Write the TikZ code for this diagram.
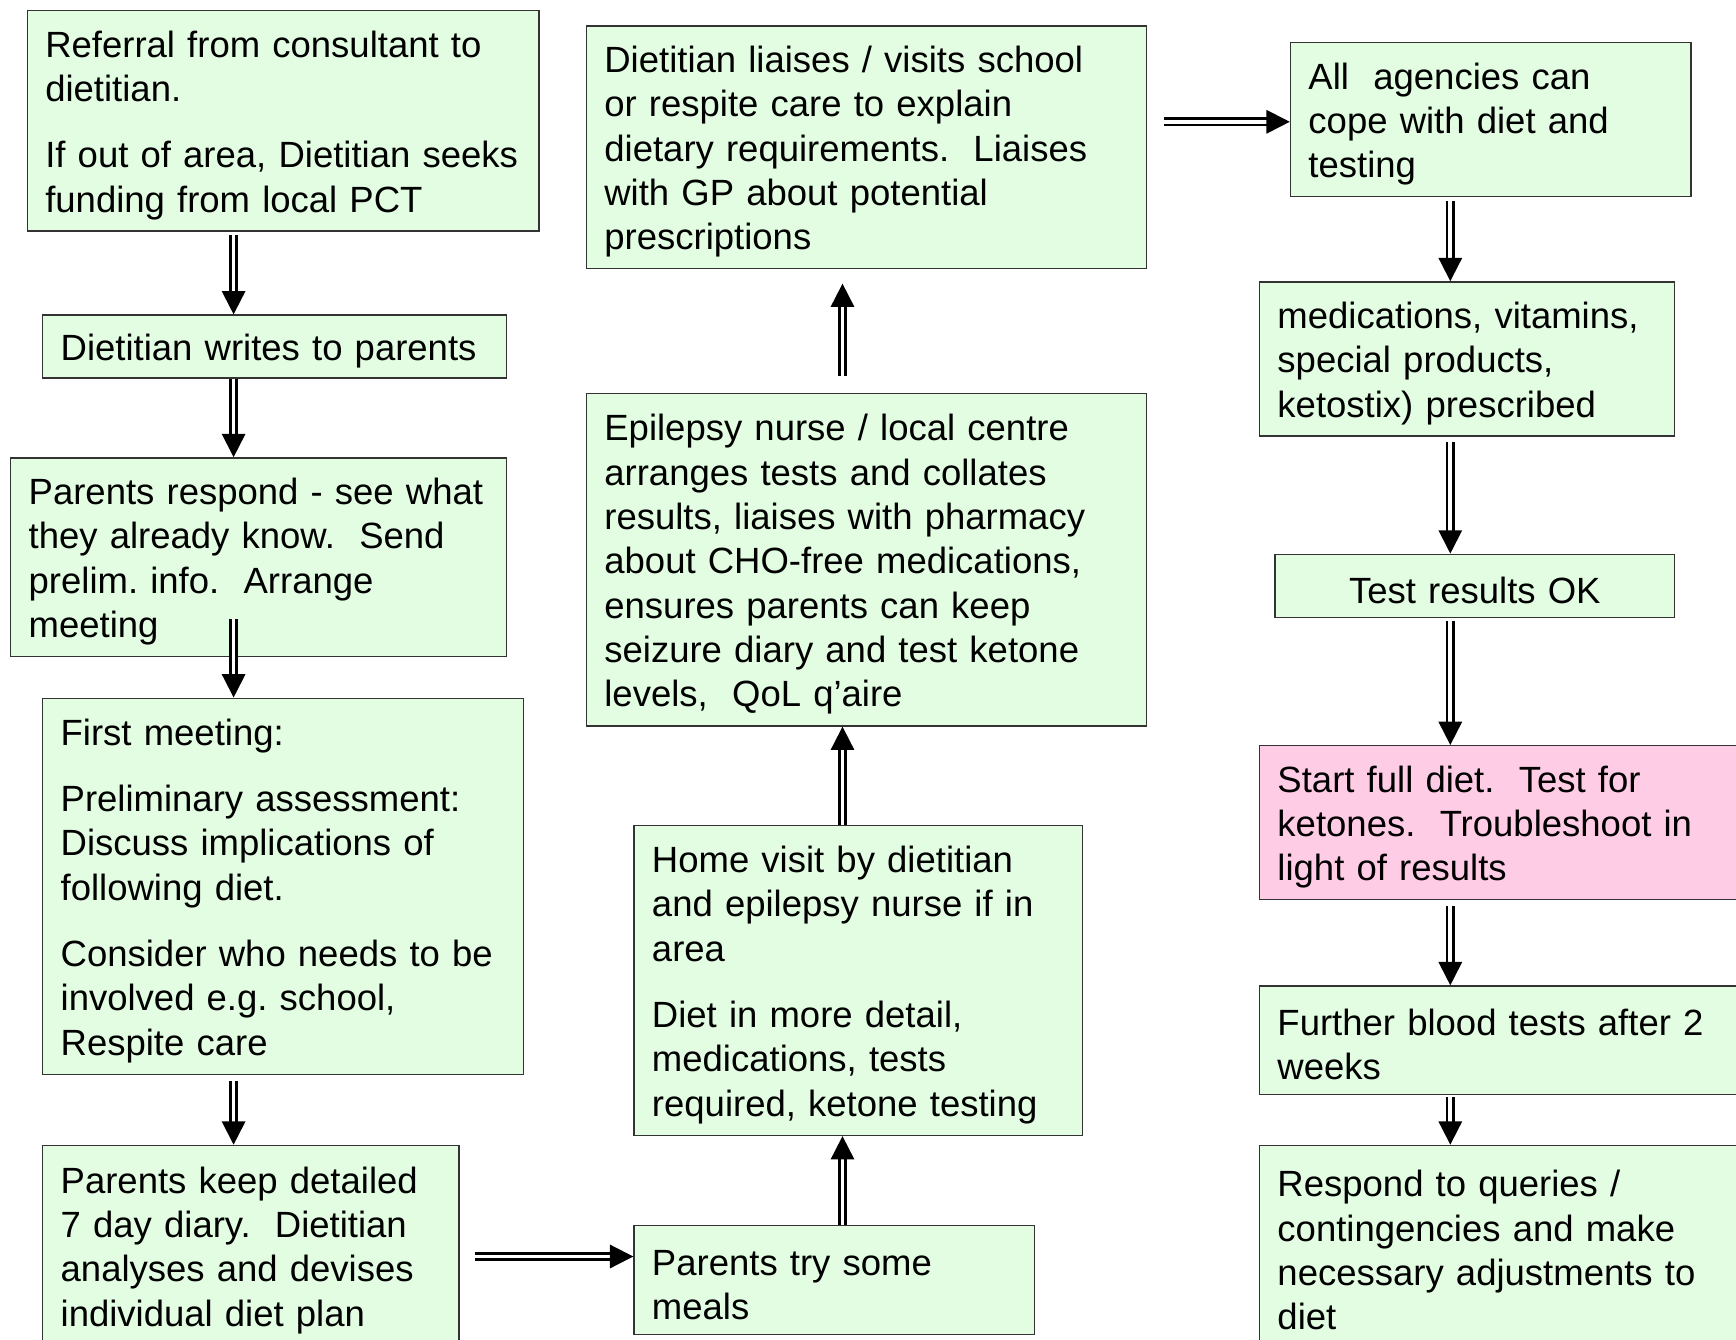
\documentclass[tikz,border=0pt]{standalone}
\usepackage{fontspec}
\setmainfont{Liberation Sans}
\usetikzlibrary{arrows.meta,calc}
\definecolor{boxgreen}{RGB}{226,253,226}
\definecolor{boxpink}{RGB}{255,204,230}

\begin{document}
\frenchspacing
\begin{tikzpicture}[x=0.3pt,y=-0.3pt,
	stage/.style={draw=black!80, line width=0.4pt, fill=boxgreen, anchor=north west,
	   align=left, inner xsep=5.4pt, inner ysep=2pt,
	   font=\fontsize{10.95pt}{13.3pt}\selectfont,
	   execute at begin node={\rule{0pt}{10.6pt}}},
	dbl/.style={draw=none,
	   postaction={draw=black, double=white, double distance=1.1pt, line width=0.8pt, shorten >=6pt},
	   postaction={draw=white, line width=0.6pt, -{Triangle[length=7pt,width=7pt,color=black]}}}]
	\useasboundingbox (0,0) rectangle (1736,1340);
	
	% arrow columns and rows
	\coordinate (c1) at (233.6,0);
	\coordinate (c2) at (842.5,0);
	\coordinate (c3) at (1450.3,0);
	\coordinate (r1) at (0,1256.5);
	\coordinate (r2) at (0,121.8);
	
	% left column
	\node[stage, text width=142.7pt, minimum height=66.1pt] (A) at (26.6,10)
	   {Referral from consultant to\\ dietitian.\\[6.6pt] If out of area, Dietitian seeks\\ funding from local PCT};
	\node[stage, text width=128.4pt, minimum height=18.9pt] (B) at (42,314.4)
	   {Dietitian writes to parents};
	\node[stage, text width=138pt, minimum height=59.5pt] (C) at (10,457.2)
	   {Parents respond - see what\\ they already know.\ \ Send\\ prelim. info.\ \ Arrange\\ meeting};
	\node[stage, text width=133.4pt, minimum height=112.95pt] (D) at (42,697.5)
	   {First meeting:\\[6.6pt] Preliminary assessment:\\ Discuss implications of\\ following diet.\\[6.6pt] Consider who needs to be\\ involved e.g. school,\\ Respite care};
	\node[stage, text width=114.1pt, minimum height=60.3pt] (E) at (42,1144.7)
	   {Parents keep detailed\\ 7 day diary.\ \ Dietitian\\ analyses and devises\\ individual diet plan};
	
	% middle column
	\node[stage, text width=157.3pt, minimum height=72.75pt] (F) at (585.7,25.5)
	   {Dietitian liaises / visits school\\ or respite care to explain\\ dietary requirements.\ \ Liaises\\ with GP about potential\\ prescriptions};
	\node[stage, text width=157.3pt, minimum height=99.7pt] (G) at (585.7,393)
	   {Epilepsy nurse / local centre\\ arranges tests and collates\\ results, liaises with pharmacy\\ about CHO-free medications,\\ ensures parents can keep\\ seizure diary and test ketone\\ levels,\ \ QoL q’aire};
	\node[stage, text width=123.7pt, minimum height=93pt] (H) at (633.3,824.8)
	   {Home visit by dietitian\\ and epilepsy nurse if in\\ area\\[6.6pt] Diet in more detail,\\ medications, tests\\ required, ketone testing};
	\node[stage, text width=109.4pt, minimum height=32.85pt] (I) at (633.3,1224.5)
	   {Parents try some\\ meals};
	
	% right column
	\node[stage, text width=109.4pt, minimum height=46.2pt] (J) at (1289.8,42)
	   {All\ \ agencies can\\ cope with diet and\\ testing};
	\node[stage, text width=113.8pt, minimum height=46.2pt] (K) at (1258.8,281.2)
	   {medications, vitamins,\\ special products,\\ ketostix) prescribed};
	\node[stage, text width=109.1pt, minimum height=18.9pt, align=center] (L) at (1274.3,553.6)
	   {Test results OK};
	\node[stage, fill=boxpink, text width=135.1pt, minimum height=46.2pt] (M) at (1258.8,745)
	   {Start full diet.\ \ Test for\\ ketones.\ \ Troubleshoot in\\ light of results};
	\node[stage, text width=135.1pt, minimum height=32.55pt] (N) at (1258.8,985.3)
	   {Further blood tests after 2\\ weeks};
	\node[stage, text width=135.1pt, minimum height=60.3pt] (O) at (1258.8,1144.7)
	   {Respond to queries /\\ contingencies and make\\ necessary adjustments to\\ diet};
	
	% connectors
	\draw[dbl] ($(A.south -| c1)+(0,3)$) -- (B.north -| c1);
	\draw[dbl] (B.south -| c1) -- (C.north -| c1);
	\draw[dbl] ($(C.south -| c1)+(0,-37.6)$) -- (D.north -| c1);
	\draw[dbl] ($(D.south -| c1)+(0,5.5)$) -- (E.north -| c1);
	\draw[dbl] ($(E.east |- r1)+(15.4,0)$) -- (I.west |- r1);
	\draw[dbl] (I.north -| c2) -- (H.south -| c2);
	\draw[dbl] (H.north -| c2) -- (G.south -| c2);
	\draw[dbl] ($(G.north -| c2)+(0,-16.6)$) -- ($(F.south -| c2)+(0,14.3)$);
	\draw[dbl] ($(F.east |- r2)+(16.6,0)$) -- (J.west |- r2);
	\draw[dbl] ($(J.south -| c3)+(0,3.3)$) -- (K.north -| c3);
	\draw[dbl] ($(K.south -| c3)+(0,5.5)$) -- (L.north -| c3);
	\draw[dbl] ($(L.south -| c3)+(0,3.3)$) -- (M.north -| c3);
	\draw[dbl] ($(M.south -| c3)+(0,5.5)$) -- (N.north -| c3);
	\draw[dbl] ($(N.south -| c3)+(0,2.2)$) -- (O.north -| c3);
\end{tikzpicture}
\end{document}
